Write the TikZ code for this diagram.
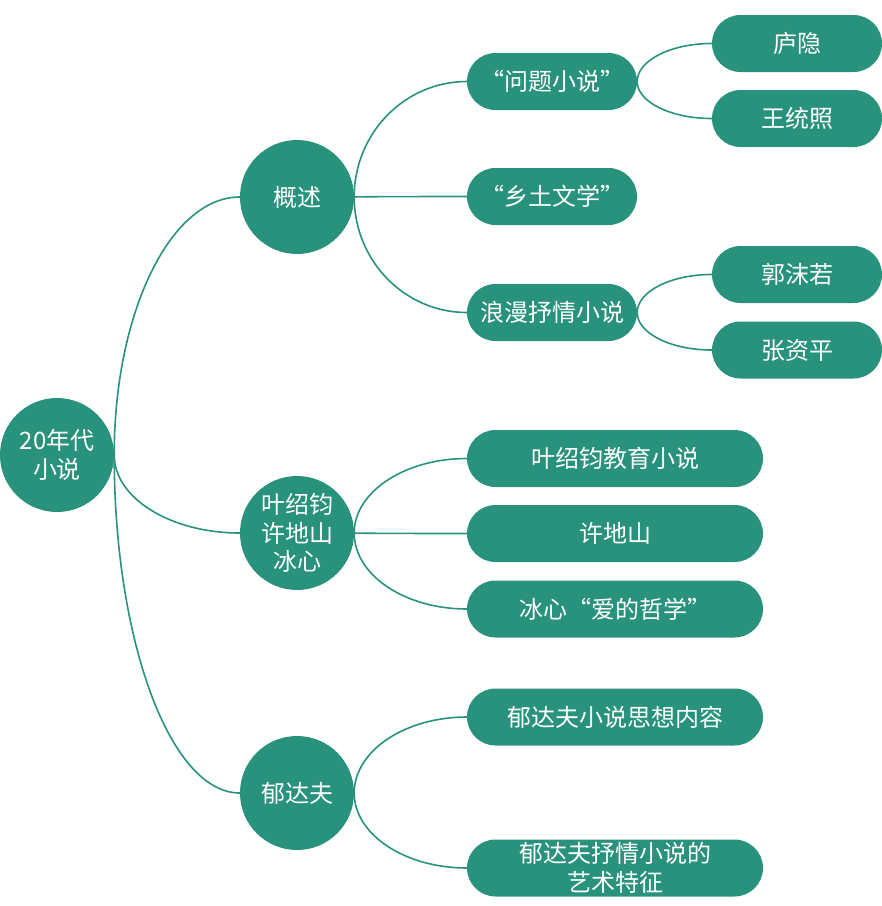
\documentclass[tikz,border=0pt]{standalone}
\usepackage{fontspec}
\setmainfont{Noto Sans CJK SC}
\usetikzlibrary{shapes.misc,calc,backgrounds}
\definecolor{teal1}{RGB}{40,146,125}
\tikzset{
  base/.style={fill=teal1, text=white, font=\fontsize{24}{28.5}\selectfont, align=center, inner sep=0pt},
  bigcircle/.style={base, circle, minimum size=114pt},
  pill/.style={base, rounded rectangle, minimum height=57pt, minimum width=170pt},
  longpill/.style={pill, minimum width=296pt},
  link/.style={draw=teal1, line width=1.6pt,
    to path={let \p1=(\tikztostart), \p2=(\tikztotarget) in
      .. controls (\x1,{\y1+0.552*(\y2-\y1)}) and ({\x2-0.552*(\x2-\x1)},\y2) .. (\tikztotarget)}}
}
\begin{document}
\begin{tikzpicture}[x=1pt,y=-1pt]
\useasboundingbox (0,0) rectangle (882,906);
\node[bigcircle] (root) at (57,455) {20年代\\小说};
\node[bigcircle] (gaishu) at (297,197) {概述};
\node[bigcircle] (ye) at (297,533) {叶绍钧\\许地山\\冰心};
\node[bigcircle] (yu) at (297,793) {郁达夫};
\node[pill] (wenti) at (552,81.5) {“问题小说”};
\node[pill] (xiangtu) at (552,196.5) {“乡土文学”};
\node[pill] (langman) at (552,312.5) {浪漫抒情小说};
\node[pill] (luyin) at (797,43.5) {庐隐};
\node[pill] (wang) at (797,118.5) {王统照};
\node[pill] (guo) at (797,274.5) {郭沫若};
\node[pill] (zhang) at (797,350) {张资平};
\node[longpill] (yejiao) at (615,458.5) {叶绍钧教育小说};
\node[longpill] (xu) at (615,533.5) {许地山};
\node[longpill] (bing) at (615,609) {冰心“爱的哲学”};
\node[longpill] (yusi) at (615,717) {郁达夫小说思想内容};
\node[longpill] (yuyi) at (615,868) {郁达夫抒情小说的\\艺术特征};
\begin{scope}[on background layer]
\draw[link] (root.east) to (gaishu.west);
\draw[link] (root.east) to (ye.west);
\draw[link] (root.east) to (yu.west);
\draw[link] (gaishu.east) to (wenti.west);
\draw[link] (gaishu.east) to (xiangtu.west);
\draw[link] (gaishu.east) to (langman.west);
\draw[link] (wenti.east) to (luyin.west);
\draw[link] (wenti.east) to (wang.west);
\draw[link] (langman.east) to (guo.west);
\draw[link] (langman.east) to (zhang.west);
\draw[link] (ye.east) to (yejiao.west);
\draw[link] (ye.east) to (xu.west);
\draw[link] (ye.east) to (bing.west);
\draw[link] (yu.east) to (yusi.west);
\draw[link] (yu.east) to (yuyi.west);
\end{scope}
\end{tikzpicture}
\end{document}
